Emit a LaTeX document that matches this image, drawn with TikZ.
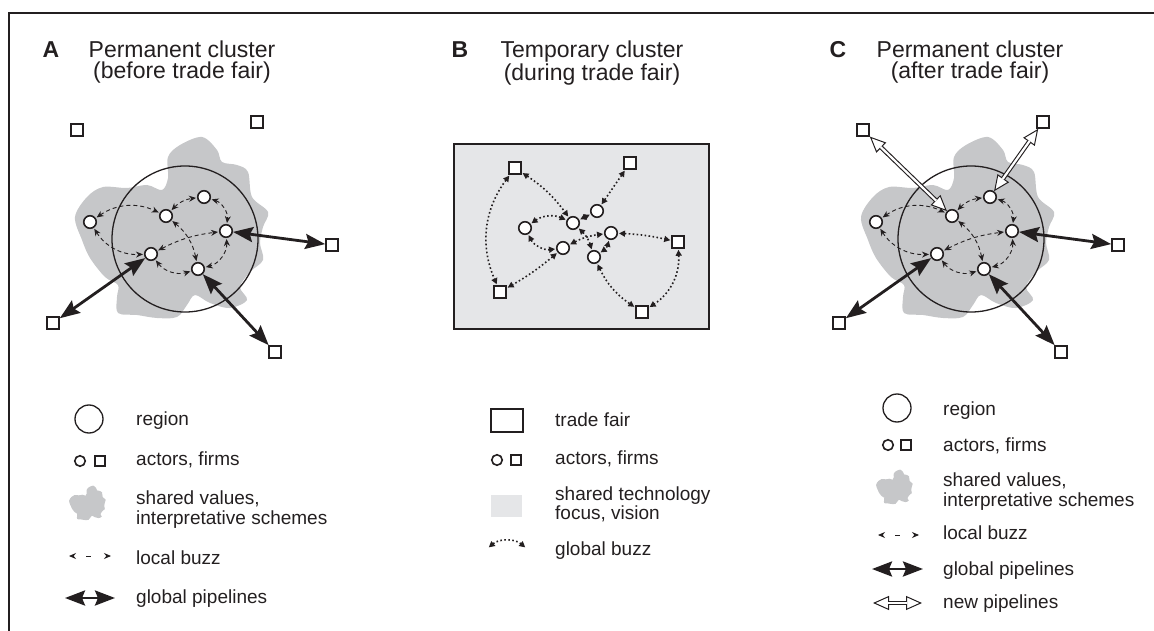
\documentclass[tikz,border=0pt]{standalone}
\usepackage{fontspec}
\setmainfont{Liberation Sans}
\usetikzlibrary{arrows.meta}
\definecolor{ink}{RGB}{35,31,32}
\definecolor{blobgray}{RGB}{198,199,201}
\definecolor{fairgray}{RGB}{229,230,232}

\begin{document}
\begin{tikzpicture}[x=1pt,y=-1pt,
  every node/.style={text=ink},
  actor/.style={circle,draw=ink,fill=white,line width=1.6pt,inner sep=0pt,minimum size=12.5pt},
  firm/.style={rectangle,draw=ink,fill=white,line width=1.6pt,inner sep=0pt,minimum size=12pt},
  region/.style={circle,draw=ink,line width=1.3pt,inner sep=0pt,minimum size=146pt},
  blobshape/.style={insert path={plot[smooth cycle,tension=0.55] coordinates {(17,-102) (32,-89) (37,-77) (52,-74) (63,-67) (67,-42) (83,-27) (78,-12) (75,4) (78,21) (65,33) (55,48) (62,61) (45,69) (25,64) (10,56) (2,66) (-8,78) (-28,79) (-48,76) (-67,74) (-68,58) (-67,46) (-80,38) (-95,19) (-103,1) (-110,-22) (-98,-42) (-82,-52) (-58,-51) (-38,-54) (-23,-49) (-17,-61) (-17,-82) (-5,-94)}}},
  buzz/.style={draw=ink,line width=0.9pt,dash pattern=on 4pt off 3pt,{Stealth[length=7pt,width=6pt]}-{Stealth[length=7pt,width=6pt]},shorten <=1pt,shorten >=1pt},
  buzzkey/.style={buzz,dash pattern=on 0pt off 13pt on 5pt off 30pt},
  gbuzz/.style={draw=ink,line width=1.6pt,dash pattern=on 1.6pt off 2.4pt,{Triangle[length=6pt,width=6pt]}-{Triangle[length=6pt,width=6pt]},shorten <=1pt,shorten >=1pt},
  pipe/.style={draw=ink,line width=2.8pt,{Stealth[length=20pt,width=15pt,inset=3pt]}-{Stealth[length=20pt,width=15pt,inset=3pt]}},
  newpipe/.style={draw=ink,line width=4.4pt,{Triangle[fill=white,length=16pt,width=14pt,line width=1pt]}-{Triangle[fill=white,length=16pt,width=14pt,line width=1pt]},postaction={draw=white,line width=2.2pt,arrows=-,shorten <=15pt,shorten >=15pt}},
  title/.style={anchor=north,align=center,inner sep=0pt,font=\fontsize{23}{21}\selectfont},
  letter/.style={anchor=base,font=\fontsize{23}{22}\selectfont\bfseries},
  legend/.style={anchor=base west,inner sep=0pt,font=\fontsize{19}{20}\selectfont}]
\useasboundingbox (0,0) rectangle (1154,631);
\draw[ink,line width=1.3pt] (9,631) |- (1154,13);

\node[letter] (la) at (51,57.5) {A};
\node[title] (ta) at (182,41) {Permanent cluster\\(before trade fair)};
\node[letter] (lb) at (460,57.5) {B};
\node[title] (tb) at (592,41) {Temporary cluster\\(during trade fair)};
\node[letter] (lc) at (838,57.5) {C};
\node[title] (tc) at (970,41) {Permanent cluster\\(after trade fair)};

\foreach \p/\dx in {a/0,c/786}{
\begin{scope}[xshift=\dx]
\fill[blobgray,shift={(185,239)},blobshape];
\node[region] (\p-reg) at (185,239) {};
\node[actor] (\p-1) at (90,222) {};
\node[actor] (\p-2) at (166,216) {};
\node[actor] (\p-3) at (204,197) {};
\node[actor] (\p-4) at (226,231) {};
\node[actor] (\p-5) at (151,254) {};
\node[actor] (\p-6) at (198,269) {};
\node[firm] (\p-tl) at (77,130) {};
\node[firm] (\p-tr) at (257,122) {};
\node[firm] (\p-r) at (332,245) {};
\node[firm] (\p-bl) at (53,323) {};
\node[firm] (\p-b) at (275,352) {};
\draw[buzz] (\p-1) to[bend left=30] (\p-2);
\draw[buzz] (\p-2) to[bend left=20] (\p-3);
\draw[buzz] (\p-3) to[bend left=40] (\p-4);
\draw[buzz] (\p-4) to[bend left=40] (\p-6);
\draw[buzz] (\p-5) to[bend right=35] (\p-6);
\draw[buzz] (\p-1) to[bend right=30] (\p-5);
\draw[buzz] (\p-5) to[bend left=10] (\p-4);
\draw[buzz] (\p-2) to[bend left=20] (\p-6);
\draw[pipe] (\p-4) -- (\p-r);
\draw[pipe] (\p-5) -- (\p-bl);
\draw[pipe] (\p-6) -- (\p-b);
\end{scope}
}
\draw[newpipe] (c-tl) -- (c-2);
\draw[newpipe] (c-tr) -- (c-3);

\node[draw=ink,fill=fairgray,line width=1.5pt,inner sep=0pt,minimum width=255pt,minimum height=185pt] (fair) at (581.5,236.5) {};
\node[firm] (b-s1) at (515,168) {};
\node[firm] (b-s2) at (630,163) {};
\node[firm] (b-s3) at (678,242) {};
\node[firm] (b-s4) at (500,292) {};
\node[firm] (b-s5) at (642,312) {};
\node[actor] (b-1) at (597,211) {};
\node[actor] (b-2) at (573,223) {};
\node[actor] (b-3) at (525,228) {};
\node[actor] (b-4) at (611,233) {};
\node[actor] (b-5) at (563,248) {};
\node[actor] (b-6) at (594,257) {};
\draw[gbuzz] (b-s1) to[bend right=30] (b-s4);
\draw[gbuzz] (b-s1) to[bend left=10] (b-2);
\draw[gbuzz] (b-s2) -- (b-1);
\draw[gbuzz] (b-1) -- (b-2);
\draw[gbuzz] (b-2) to[bend right=30] (b-3);
\draw[gbuzz] (b-3) to[bend right=35] (b-5);
\draw[gbuzz] (b-5) to[bend left=10] (b-4);
\draw[gbuzz] (b-2) to[bend left=15] (b-6);
\draw[gbuzz] (b-4) to[bend left=20] (b-6);
\draw[gbuzz] (b-4) to[bend left=5] (b-s3);
\draw[gbuzz] (b-5) to[bend left=5] (b-s4);
\draw[gbuzz] (b-6) to[bend right=15] (b-s5);
\draw[gbuzz] (b-s3) to[bend left=30] (b-s5);

\node[region,minimum size=28pt] (ka-reg) at (89,419) {};
\node[actor,minimum size=10.5pt] (ka-act) at (80,461) {};
\node[firm,minimum size=10pt] (ka-firm) at (100,461) {};
\fill[blobgray,shift={(90,505)},scale=0.19,blobshape];
\coordinate (ka-lb1) at (68,556);
\coordinate (ka-lb2) at (112,556);
\draw[buzzkey] (ka-lb1) -- (ka-lb2);
\coordinate (ka-gp1) at (65,598);
\coordinate (ka-gp2) at (115,598);
\draw[pipe] (ka-gp1) -- (ka-gp2);
\node[legend] at (136,425) {region};
\node[legend] at (136,465) {actors, firms};
\node[legend] at (136,504) {shared values,};
\node[legend] at (136,524) {interpretative schemes};
\node[legend] at (136,564) {local buzz};
\node[legend] at (136,603) {global pipelines};

\node[draw=ink,line width=1.5pt,inner sep=0pt,minimum width=32pt,minimum height=23pt] (kb-fair) at (507,420.5) {};
\node[actor,minimum size=10.5pt] (kb-act) at (497,460) {};
\node[firm,minimum size=10pt] (kb-firm) at (516,460) {};
\fill[fairgray] (491,495) rectangle (522,517);
\coordinate (kb-gb1) at (488,548);
\coordinate (kb-gb2) at (526,548);
\draw[gbuzz] (kb-gb1) to[bend left=40] (kb-gb2);
\node[legend] at (555,426) {trade fair};
\node[legend] at (555,464) {actors, firms};
\node[legend] at (555,500) {shared technology};
\node[legend] at (555,519) {focus, vision};
\node[legend] at (555,555) {global buzz};

\node[region,minimum size=28pt] (kc-reg) at (897,408) {};
\node[actor,minimum size=10.5pt] (kc-act) at (888,445) {};
\node[firm,minimum size=10pt] (kc-firm) at (906,445) {};
\fill[blobgray,shift={(897,489)},scale=0.19,blobshape];
\coordinate (kc-lb1) at (877,535);
\coordinate (kc-lb2) at (920,535);
\draw[buzzkey] (kc-lb1) -- (kc-lb2);
\coordinate (kc-gp1) at (872,569);
\coordinate (kc-gp2) at (923,569);
\draw[pipe] (kc-gp1) -- (kc-gp2);
\coordinate (kc-np1) at (873,603);
\coordinate (kc-np2) at (922,603);
\draw[newpipe] (kc-np1) -- (kc-np2);
\node[legend] at (943,415) {region};
\node[legend] at (943,451) {actors, firms};
\node[legend] at (943,486) {shared values,};
\node[legend] at (943,506) {interpretative schemes};
\node[legend] at (943,539.5) {local buzz};
\node[legend] at (943,575) {global pipelines};
\node[legend] at (943,608.5) {new pipelines};
\end{tikzpicture}
\end{document}
